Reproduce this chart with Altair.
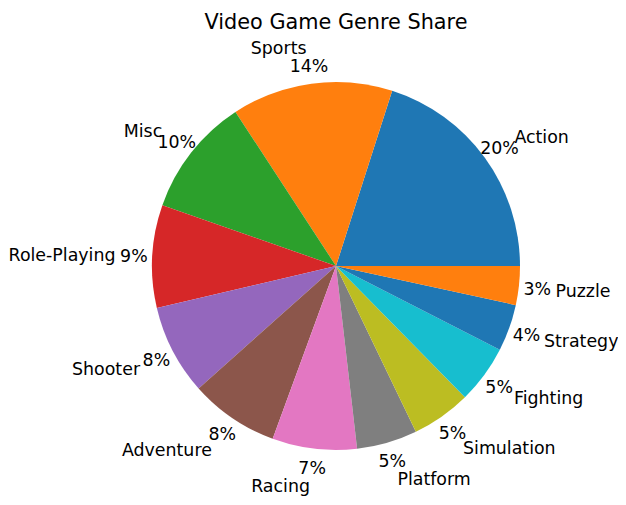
import math
import altair as alt
import pandas as pd

genres = ["Action", "Sports", "Misc", "Role-Playing", "Shooter", "Adventure",
          "Racing", "Platform", "Simulation", "Fighting", "Strategy", "Puzzle"]
shares = [20.0, 14.1, 10.4, 9.0, 7.9, 7.8, 7.4, 5.3, 5.2, 5.1, 4.1, 3.4]
colors = ["#1f77b4", "#ff7f0e", "#2ca02c", "#d62728", "#9467bd", "#8c564b",
          "#e377c2", "#7f7f7f", "#bcbd22", "#17becf", "#1f77b4", "#ff7f0e"]

df = pd.DataFrame({"genre": genres, "share": shares, "idx": list(range(len(genres)))})
total = sum(shares)

PAD_TOP = 30
CX, CY = 328, 258 - PAD_TOP
R = 184
FONT = "DejaVu Sans"
FS = 17.4
DY = 2

theta_scale = alt.Scale(domain=[0, total], range=[2.5 * math.pi, 0.5 * math.pi])
color_scale = alt.Scale(domain=genres, range=colors)

arc = alt.Chart(df).mark_arc(radius=R, stroke=None).encode(
    x=alt.value(CX), y=alt.value(CY),
    theta=alt.Theta("share:Q", stack=True, scale=theta_scale),
    order=alt.Order("idx:Q"),
    color=alt.Color("genre:N", scale=color_scale, legend=None),
)

base = alt.Chart(df).transform_window(
    cum="sum(share)", sort=[alt.SortField("idx")]
).transform_calculate(
    mid="datum.cum - datum.share / 2",
    pct=f"100 * datum.share / {total}",
).transform_calculate(
    ang=f"2 * PI * datum.mid / {total}",
    plabel="format(datum.pct, '.0f') + '%'",
).transform_calculate(
    side="cos(datum.ang) > 0 ? 'R' : 'L'"
)

pct = base.mark_text(radius=R * 1.1, font=FONT, fontSize=FS, color="black",
                     align="center", baseline="middle", dy=DY).encode(
    x=alt.value(CX), y=alt.value(CY),
    theta=alt.Theta("mid:Q", stack=False, scale=theta_scale),
    text="plabel:N",
)

lab_r = base.transform_filter("datum.side == 'R'").mark_text(
    radius=R * 1.2, font=FONT, fontSize=FS, color="black",
    align="left", baseline="middle", dy=DY).encode(
    x=alt.value(CX), y=alt.value(CY),
    theta=alt.Theta("mid:Q", stack=False, scale=theta_scale),
    text="genre:N",
)

lab_l = base.transform_filter("datum.side == 'L'").mark_text(
    radius=R * 1.2, font=FONT, fontSize=FS, color="black",
    align="right", baseline="middle", dy=DY).encode(
    x=alt.value(CX), y=alt.value(CY),
    theta=alt.Theta("mid:Q", stack=False, scale=theta_scale),
    text="genre:N",
)

chart = alt.layer(arc, pct, lab_r, lab_l).properties(
    width=610, height=489 - PAD_TOP,
    padding={"left": 0, "right": 0, "top": PAD_TOP, "bottom": 0},
    autosize=alt.AutoSizeParams(type="none"),
    title=alt.TitleParams("Video Game Genre Share", font=FONT, fontSize=20.8,
                          fontWeight="normal", color="black", anchor="middle",
                          dx=23, offset=4),
).configure_view(strokeWidth=0)

chart.save("out.html", embed_options={"renderer": "svg", "actions": False})
